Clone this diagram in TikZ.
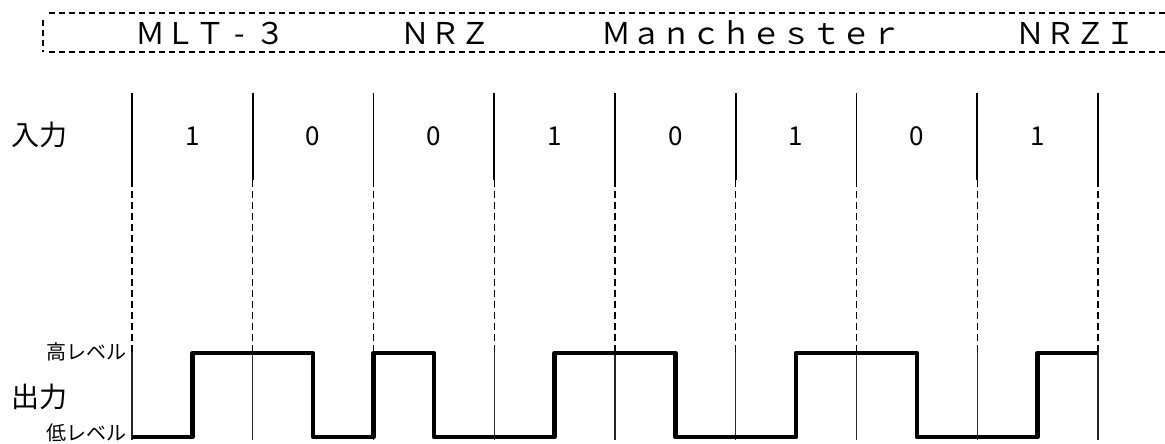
\documentclass[tikz,border=0pt]{standalone}
\usepackage{fontspec}
\setmainfont{Noto Sans CJK JP}
\begin{document}
\begin{tikzpicture}[x=1pt,y=-1pt,
  banner/.style={line width=1.8pt, dash pattern=on 6pt off 4pt},
  bannertext/.style={inner sep=0pt, font=\fontsize{30}{32}\selectfont},
  topline/.style={line width=1.9pt},
  midline/.style={line width=1.3pt, dash pattern=on 7pt off 4pt},
  lowline/.style={line width=1.1pt, black!85},
  wave/.style={line width=4.5pt, line join=round},
  bit/.style={inner sep=0pt, font=\fontsize{26}{28}\selectfont},
  biglabel/.style={inner sep=0pt, font=\fontsize{28}{30}\selectfont},
  levlabel/.style={inner sep=0pt, anchor=east, font=\fontsize{20}{22}\selectfont}]
\useasboundingbox (0,0) rectangle (1165,444);
% banner
\coordinate (bl1) at (42.7,20);
\coordinate (bl2) at (42.7,51.7);
\coordinate (bt1) at (49,13);
\coordinate (bt2) at (1175,13);
\coordinate (bb1) at (49,51.7);
\coordinate (bb2) at (1175,51.7);
\draw[banner] (bl1) -- (bl2);
\draw[banner] (bt1) -- (bt2);
\draw[banner] (bb1) -- (bb2);
\node[bannertext] (mlt) at (210,33) {ＭＬＴ\makebox[30pt]{-}３};
\node[bannertext] (nrz) at (445,33) {ＮＲＺ};
\node[bannertext] (man) at (751,33) {Ｍａｎｃｈｅｓｔｅｒ};
\node[bannertext] (nrzi) at (1075,33) {ＮＲＺＩ};
% boundaries
\foreach \i in {0,...,8}{
  \pgfmathsetmacro{\xx}{132+120.75*\i}
  \coordinate (t\i) at (\xx,93);
  \coordinate (m\i) at (\xx,180);
  \coordinate (h\i) at (\xx,352);
  \coordinate (b\i) at (\xx,440);
  \draw[topline] (t\i) -- (m\i);
  \draw[midline] (m\i) -- (h\i);
  \draw[lowline] (h\i) -- (b\i);
}
% bits
\foreach \b [count=\i from 0] in {1,0,0,1,0,1,0,1}{
  \pgfmathsetmacro{\xx}{192.4+120.75*\i}
  \node[bit] (bit\i) at (\xx,136) {\b};
}
% labels
\node[biglabel] (in) at (39,135) {入力};
\node[biglabel] (out) at (39,397) {出力};
\node[levlabel] (hi) at (127,352) {高レベル};
\node[levlabel] (lo) at (127,433) {低レベル};
% waveform
\draw[wave] (132,437) -- (192.4,437) -- (192.4,353) -- (313.1,353) -- (313.1,437)
  -- (373.5,437) -- (373.5,353) -- (433.9,353) -- (433.9,437) -- (554.6,437)
  -- (554.6,353) -- (675.4,353) -- (675.4,437) -- (796.1,437) -- (796.1,353)
  -- (916.9,353) -- (916.9,437) -- (1037.6,437) -- (1037.6,353) -- (1098,353);
\end{tikzpicture}
\end{document}
